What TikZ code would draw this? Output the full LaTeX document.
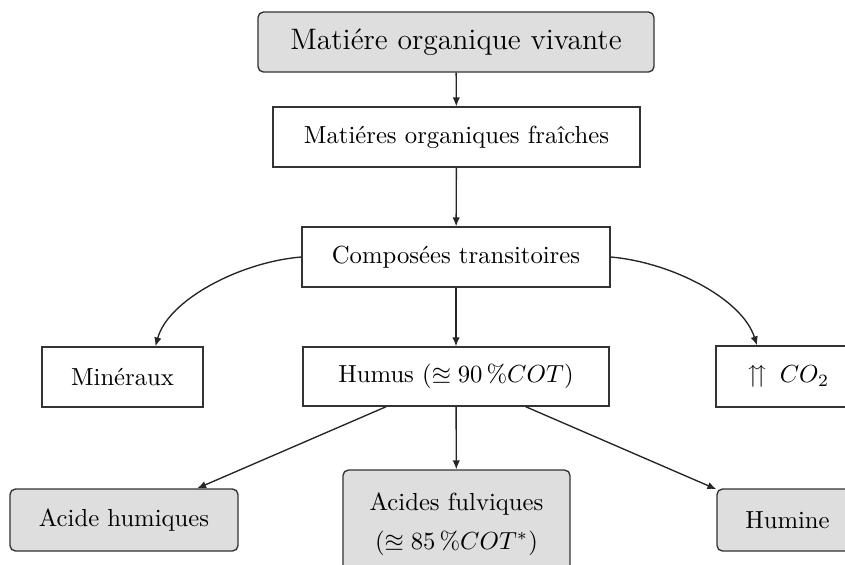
\documentclass[tikz,border=0pt]{standalone}
\usepackage{amssymb}
\usetikzlibrary{arrows.meta,calc}
\begin{document}
\begin{tikzpicture}[x=0.405pt,y=-0.405pt,
  box/.style={draw=black!80, line width=0.55pt, inner sep=0pt, align=center},
  gbox/.style={box, fill=black!13, rounded corners=2.2pt},
  arr/.style={-{Latex[length=3.6pt,width=3pt]}, line width=0.55pt, draw=black!85},
]
\useasboundingbox (0,0) rectangle (845,564);
\clip (0,0) rectangle (845,564);
\node[gbox, minimum width=396*0.405pt, minimum height=60*0.405pt, font=\large] (top) at (456,42) {Matiére organique vivante};
\node[box, minimum width=367*0.405pt, minimum height=60*0.405pt] (fresh) at (456.5,137) {Matiéres organiques fraîches};
\node[box, minimum width=308*0.405pt, minimum height=60*0.405pt] (comp) at (456,257) {Composées transitoires};
\node[box, minimum width=161*0.405pt, minimum height=60*0.405pt] (min) at (122.5,377) {Minéraux};
\node[box, minimum width=306*0.405pt, minimum height=59*0.405pt] (humus) at (456,376.5) {Humus ($\approxeq 90\,\%COT$)};
\node[box, minimum width=144*0.405pt, minimum height=61*0.405pt] (co2) at (788,376.5) {$\upuparrows$\, $CO_2$};
\node[gbox, minimum width=228*0.405pt, minimum height=62*0.405pt] (acide) at (124,520) {Acide humiques};
\node[gbox, minimum width=227*0.405pt, minimum height=108*0.405pt] (fulv) at (456.5,524) {Acides fulviques\\[4pt]($\approxeq 85\,\%COT^*$)};
\node[gbox, minimum width=141*0.405pt, minimum height=62*0.405pt] (humine) at (787.5,520) {Humine};
\coordinate (minin) at ($(min.north)+(33,0)$);
\coordinate (co2in) at ($(co2.north)+(-31,0)$);
\draw[arr] (top) -- (fresh);
\draw[arr] (fresh) -- (comp);
\draw[arr] (comp) -- (humus);
\draw[arr] (comp.west) .. controls (240,262) and (168,300) .. (minin);
\draw[arr] (comp.east) .. controls (670,262) and (742,298) .. (co2in);
\draw[arr] (humus) -- (acide);
\draw[arr] (humus) -- (fulv);
\draw[arr] (humus) -- (humine);
\end{tikzpicture}
\end{document}
